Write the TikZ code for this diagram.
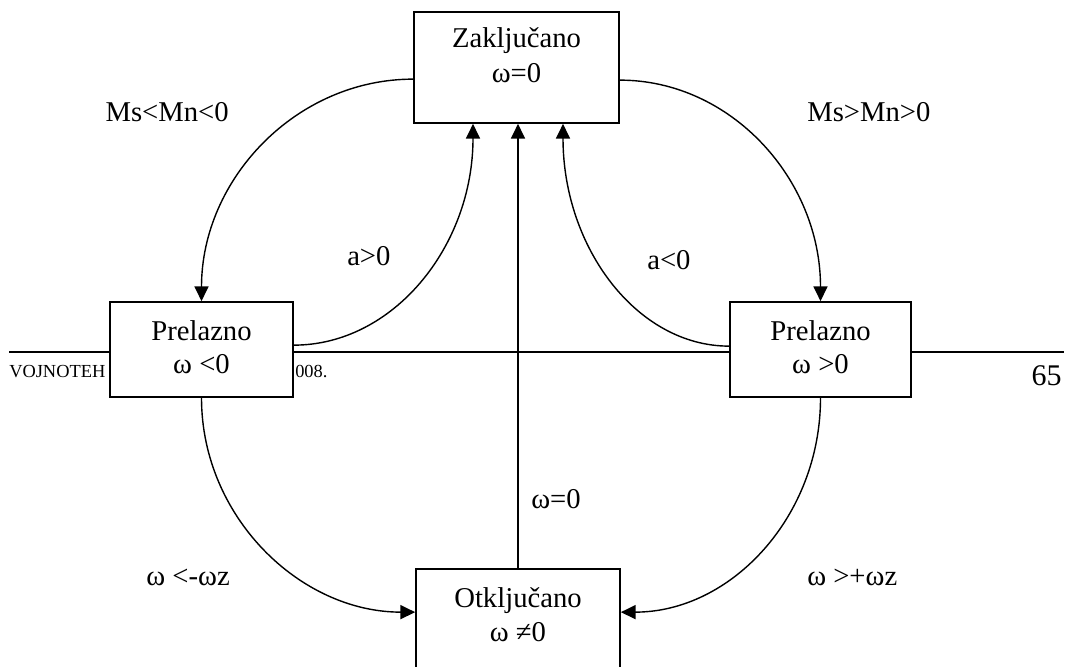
\documentclass[tikz,border=0pt]{standalone}
\usepackage{fontspec}
\setmainfont{Liberation Serif}
\usetikzlibrary{arrows.meta,calc}
\begin{document}
\begin{tikzpicture}[x=0.75pt,y=-0.75pt,
  statebox/.style={draw=black, line width=1.3pt, fill=white, inner sep=0pt},
  txt/.style={font=\fontsize{21.5pt}{25pt}\selectfont, inner sep=0pt, anchor=base},
  lbl/.style={font=\fontsize{21.5pt}{25pt}\selectfont, inner sep=0pt},
  conn/.style={line width=1.05pt, -{Triangle[length=11pt,width=10.5pt]}},
  hdr/.style={font=\fontsize{13.8pt}{16pt}\selectfont, inner sep=0pt, anchor=base west}]
\useasboundingbox (0,0) rectangle (1067,667);

% running header rule of the page
\coordinate (ruleL) at (9,352);
\coordinate (ruleR) at (1064,352);
\draw[line width=1pt] (ruleL) -- (ruleR);
\node[hdr] (hdrA) at (9,377) {VOJNOTEH};
\node[hdr] (hdrB) at (295,377) {008.};
\node[font=\fontsize{22.5pt}{26pt}\selectfont, inner sep=0pt, anchor=base east] (pgno) at (1062,385) {65};

% states
\node[statebox, minimum width=153.75pt, minimum height=83.25pt] (zak) at (516.5,67.5) {};
\node[statebox, minimum width=137.25pt, minimum height=71.25pt] (pl) at (201.5,349.5) {};
\node[statebox, minimum width=135.75pt, minimum height=71.25pt] (pr) at (820.5,349.5) {};
\node[statebox, minimum width=153pt, minimum height=98.25pt] (otk) at (518,634.5) {};

\node[txt] (zakA) at (516.5,48) {Zaključano};
\node[txt] (zakB) at (516.5,83) {ω=0};
\node[txt] (plA) at (201.5,340) {Prelazno};
\node[txt] (plB) at (201.5,373) {ω <0};
\node[txt] (prA) at (820.5,340) {Prelazno};
\node[txt] (prB) at (820.5,373) {ω >0};
\node[txt] (otkA) at (518,607) {Otključano};
\node[txt] (otkB) at (518,641) {ω ≠0};

% transitions
\draw[conn] ($(zak.north west)+(0,68)$) .. controls +(-117,0) and +(0,-122) .. (pl.north);
\draw[conn] ($(zak.north east)+(0,69)$) .. controls +(111,0) and +(0,-122) .. (pr.north);
\draw[conn] ($(pl.north east)+(0,44)$) .. controls +(99,0) and +(0,123) .. ($(zak.south)+(-43.5,0)$);
\draw[conn] ($(pr.north west)+(0,45)$) .. controls +(-92,0) and +(0,124) .. ($(zak.south)+(46.5,0)$);
\draw[conn] (otk.north) -- (otk.north |- zak.south);
\draw[conn] (pl.south) .. controls +(0,119) and +(-115,0) .. ($(otk.north west)+(0,44)$);
\draw[conn] (pr.south) .. controls +(0,119) and +(110,0) .. ($(otk.north east)+(0,44)$);

% transition conditions
\node[lbl, anchor=base east] (cMsl) at (229,122) {Ms<Mn<0};
\node[lbl, anchor=base west] (cMsg) at (807,122) {Ms>Mn>0};
\node[lbl, anchor=base west] (cApos) at (347,265) {a>0};
\node[lbl, anchor=base west] (cAneg) at (647,269) {a<0};
\node[lbl, anchor=base west] (cW0) at (531,508) {ω=0};
\node[lbl, anchor=base east] (cWneg) at (230,585) {ω <-ωz};
\node[lbl, anchor=base west] (cWpos) at (807,585) {ω >+ωz};
\end{tikzpicture}
\end{document}
